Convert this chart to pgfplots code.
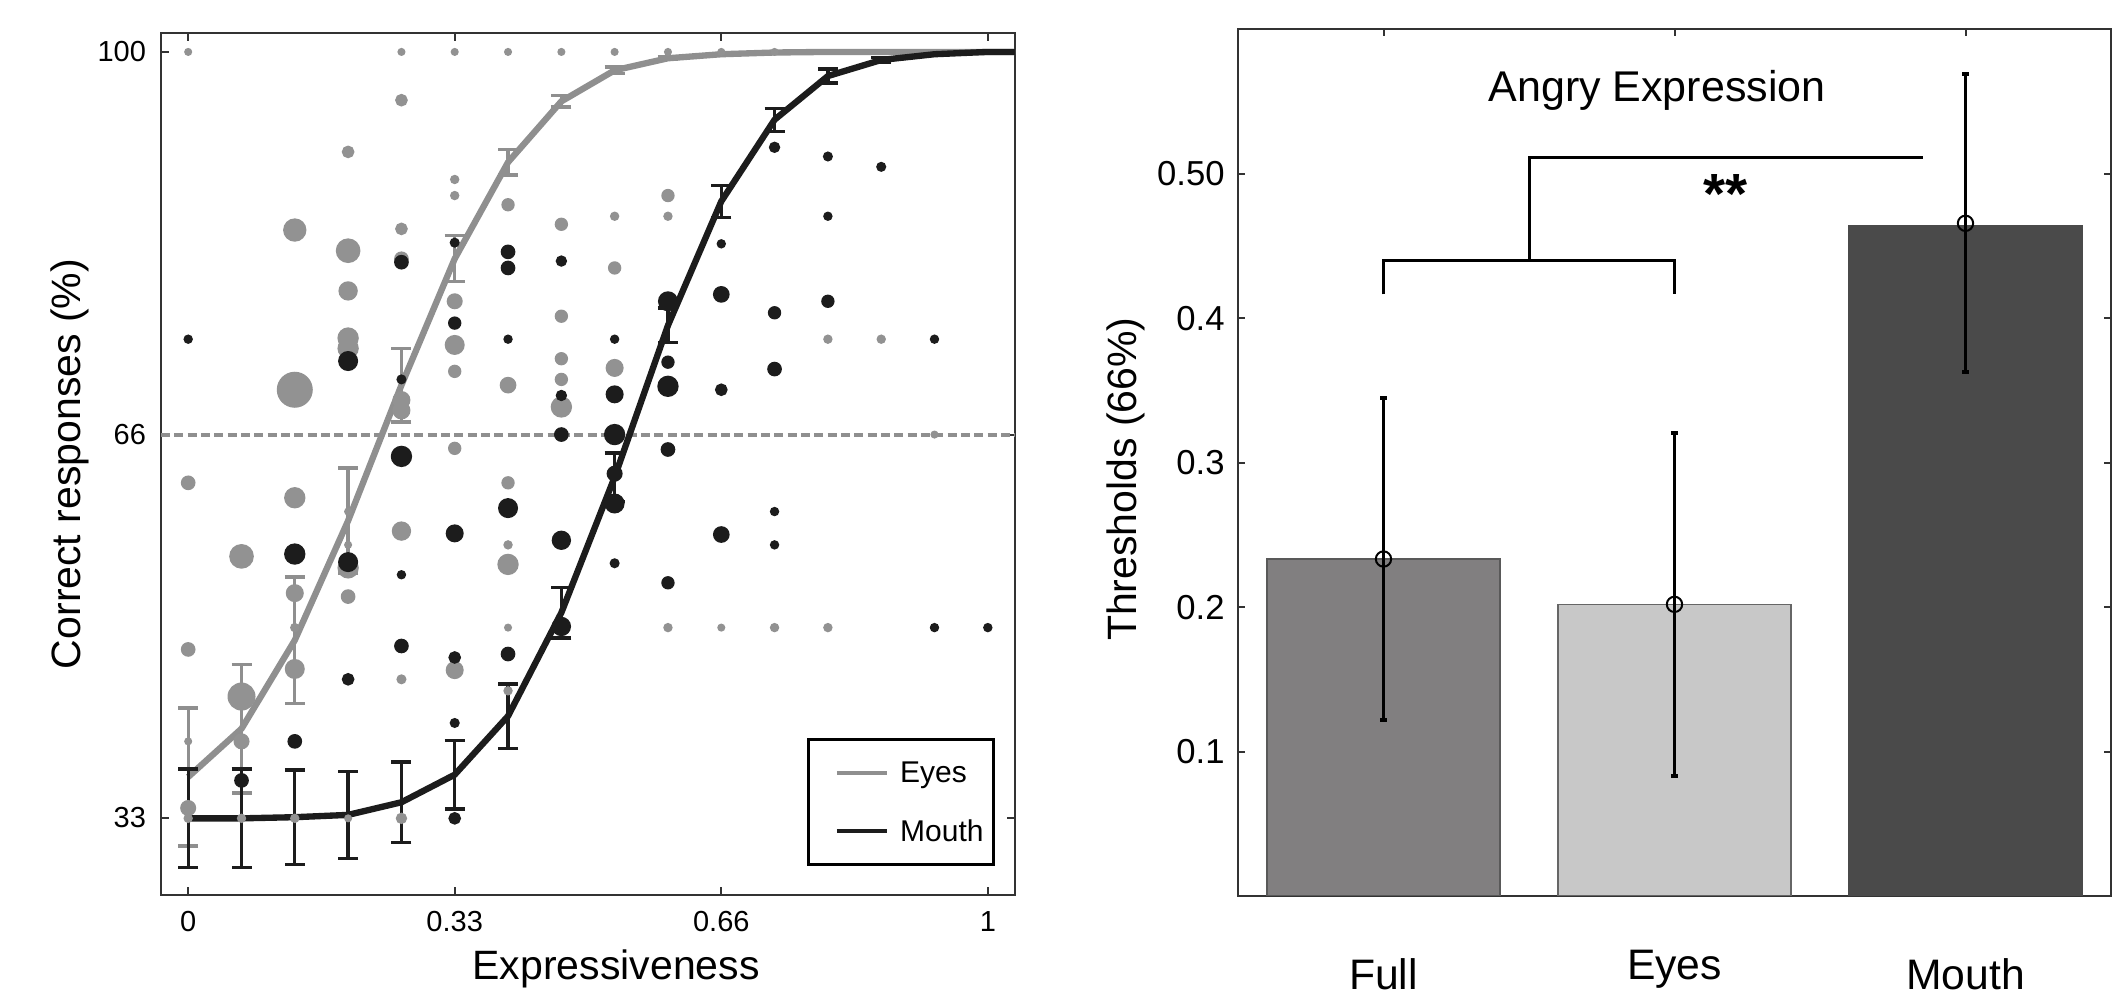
\documentclass[border=0pt]{standalone}
\usepackage{fontspec}
\setmainfont{Liberation Sans}
\usepackage{pgfplots}
\usepackage{pgfplotstable}
\pgfplotsset{compat=1.18}

\definecolor{eyesline}{HTML}{8F8F8F}
\definecolor{eyesdot}{HTML}{929292}
\definecolor{mouthline}{HTML}{1C1C1C}
\definecolor{fullbar}{HTML}{817F80}
\definecolor{eyesbar}{HTML}{C8C8C8}
\definecolor{mouthbar}{HTML}{4A4A4A}

% scatter: expressiveness, percent correct, marker radius (pt)
\pgfplotstableread{
x y r
0 100 1.0
0 62.5 2.0
0 48.0 2.0
0 40.0 1.0
0 34.2 2.2
0 33.3 1.2
0.0667 56.1 3.5
0.0667 43.9 4.0
0.0667 40.0 2.2
0.0667 33.3 1.2
0.1333 84.5 3.3
0.1333 70.6 5.2
0.1333 61.2 3.0
0.1333 52.9 2.5
0.1333 49.9 1.2
0.1333 46.3 2.8
0.1333 33.3 1.2
0.2 91.3 1.7
0.2 82.7 3.5
0.2 79.2 2.7
0.2 75.1 3.0
0.2 74.2 3.0
0.2 60.0 1.0
0.2 57.1 1.0
0.2 55.1 3.0
0.2 52.6 2.0
0.2 33.3 1.0
0.2667 100 1.0
0.2667 95.8 1.7
0.2667 84.6 1.7
0.2667 82.0 2.0
0.2667 69.7 2.5
0.2667 68.8 2.5
0.2667 58.3 2.7
0.2667 45.4 1.3
0.2667 33.3 1.5
0.3333 100 1.0
0.3333 88.9 1.2
0.3333 87.5 1.2
0.3333 78.3 2.2
0.3333 74.5 2.8
0.3333 72.2 1.8
0.3333 65.5 1.8
0.3333 46.2 2.5
0.4 100 1.0
0.4 86.7 1.8
0.4 71.0 2.3
0.4 62.5 1.8
0.4 57.1 1.2
0.4 55.4 3.0
0.4 49.9 1.0
0.4 44.4 1.2
0.4667 100 1.0
0.4667 85.0 1.8
0.4667 77.0 1.8
0.4667 73.3 1.8
0.4667 71.5 1.8
0.4667 69.1 3.0
0.5333 100 1.0
0.5333 85.7 1.2
0.5333 81.2 1.8
0.5333 72.5 2.5
0.6 100 1.0
0.6 87.5 1.8
0.6 85.7 1.2
0.6 49.9 1.2
0.6667 100 1.0
0.6667 49.9 1.0
0.7333 100 1.0
0.7333 49.9 1.2
0.8 75.0 1.2
0.8 49.9 1.2
0.8667 75.0 1.2
0.9333 66.7 1.0
}\eyesdots

\pgfplotstableread{
x y r
0 75.0 1.2
0.0667 36.6 2.0
0.1333 56.3 3.0
0.1333 40.0 2.0
0.2 73.1 2.8
0.2 55.6 2.8
0.2 45.4 1.7
0.2667 81.7 2.0
0.2667 71.5 1.3
0.2667 64.8 3.0
0.2667 54.5 1.2
0.2667 48.3 2.0
0.3333 83.4 1.3
0.3333 76.4 1.8
0.3333 58.1 2.5
0.3333 47.3 1.7
0.3333 41.6 1.3
0.3333 33.3 1.7
0.4 82.6 2.0
0.4 81.2 2.0
0.4 75.0 1.2
0.4 60.3 2.8
0.4 47.6 2.0
0.4667 81.8 1.5
0.4667 70.1 1.5
0.4667 66.7 2.0
0.4667 57.5 2.7
0.4667 50.0 2.7
0.5333 75.0 1.2
0.5333 70.2 2.5
0.5333 66.7 3.0
0.5333 63.3 2.2
0.5333 60.7 2.8
0.5333 55.5 1.3
0.6 78.3 2.8
0.6 73.0 1.8
0.6 70.9 3.0
0.6 65.4 2.0
0.6 53.8 1.8
0.6667 83.3 1.2
0.6667 78.9 2.3
0.6667 70.6 1.7
0.6667 58.0 2.3
0.7333 91.7 1.5
0.7333 77.3 1.8
0.7333 72.4 2.0
0.7333 60.0 1.2
0.7333 57.1 1.2
0.8 90.9 1.3
0.8 85.7 1.2
0.8 78.3 1.8
0.8667 90.0 1.3
0.9333 75.0 1.2
0.9333 49.9 1.2
1.0 49.9 1.2
}\mouthdots

% fitted curves with error
\pgfplotstableread{
x y e
0 36.9 6.0
0.0667 41.1 5.6
0.1333 48.8 5.5
0.2 59.2 4.6
0.2667 71.0 3.2
0.3333 82.0 2.0
0.4 90.4 1.1
0.4667 95.7 0.5
0.5333 98.4 0.3
0.6 99.45 0.1
0.6667 99.8 0
0.7333 99.95 0
0.8 100 0
0.8667 100 0
0.9333 100 0
1.0 100 0
1.034 100 0
}\eyescurve

\pgfplotstableread{
x y e
0 33.3 4.3
0.0667 33.3 4.3
0.1333 33.4 4.1
0.2 33.6 3.8
0.2667 34.7 3.5
0.3333 37.1 3.0
0.4 42.2 2.8
0.4667 51.2 2.2
0.5333 63.0 2.1
0.6 76.2 1.5
0.6667 87.0 1.4
0.7333 94.1 1.0
0.8 97.9 0.6
0.8667 99.3 0.2
0.9333 99.8 0
1.0 100 0
1.034 100 0
}\mouthcurve

\begin{document}
\begin{tikzpicture}
\path[use as bounding box] (0pt,0pt) rectangle (635.1pt,299.1pt);

\begin{axis}[
    at={(48.3pt,30.6pt)}, anchor=south west,
    scale only axis, width=256.2pt, height=258.6pt,
    xmin=-0.034, xmax=1.034, ymin=26.63, ymax=101.65,
    axis line style={black!80, line width=0.6pt},
    tick align=inside, major tick length=2.5pt,
    tick style={black!80, line width=0.6pt},
    xtick={0,0.3333,0.6667,1}, xticklabels={0,0.33,0.66,1},
    ytick={33.333,66.667,100}, yticklabels={33,66,100},
    ticklabel style={font=\fontsize{8.7}{9}\selectfont},
    xticklabel style={anchor=base, yshift=-11.1pt},
    yticklabel style={xshift=-1pt},
    xlabel={Expressiveness}, ylabel={Correct responses (\%)},
    label style={font=\fontsize{12.3}{13}\selectfont},
    xlabel style={at={(axis description cs:0.533,-0.0858)}, anchor=center},
    ylabel style={at={(axis description cs:-0.1066,0.5)}, anchor=center},
    legend style={at={(axis description cs:0.9766,0.0336)}, anchor=south east,
        draw=black, line width=0.9pt, font=\fontsize{9}{9}\selectfont,
        inner xsep=2pt, inner ysep=5pt, row sep=7.5pt,
        nodes={inner sep=1pt, text height=7pt, text depth=1pt, text width=25pt}},
    legend cell align=left,
]
\addplot[scatter, only marks, mark=*, forget plot,
    scatter/use mapped color={draw=eyesdot, fill=eyesdot},
    visualization depends on={\thisrow{r} \as \rad},
    scatter/@pre marker code/.append style={/tikz/mark size=\rad pt}]
    table[x=x, y=y] {\eyesdots};
\addplot[scatter, only marks, mark=*, forget plot,
    scatter/use mapped color={draw=mouthline, fill=mouthline},
    visualization depends on={\thisrow{r} \as \rad},
    scatter/@pre marker code/.append style={/tikz/mark size=\rad pt}]
    table[x=x, y=y] {\mouthdots};
\addplot[forget plot, eyesline, line width=1pt, dash pattern=on 2.7pt off 1.3pt]
    coordinates {(-0.034,66.667) (1.034,66.667)};

\addplot[eyesline, line width=1.9pt, mark=none,
    legend image code/.code={\path[draw=none] (0pt,0pt) -- (24.5pt,0pt);
        \draw[eyesline, line width=1.3pt] (6.5pt,0pt) -- (21.5pt,0pt);},
    error bars/.cd, y dir=both, y explicit,
    error bar style={eyesline, line width=1pt},
    error mark options={eyesline, rotate=90, mark size=3pt, line width=1pt}]
    table[x=x, y=y, y error=e] {\eyescurve};
\addlegendentry{Eyes}
\addplot[mouthline, line width=1.9pt, mark=none,
    legend image code/.code={\path[draw=none] (0pt,0pt) -- (24.5pt,0pt);
        \draw[mouthline, line width=1.3pt] (6.5pt,0pt) -- (21.5pt,0pt);},
    error bars/.cd, y dir=both, y explicit,
    error bar style={mouthline, line width=1pt},
    error mark options={mouthline, rotate=90, mark size=3pt, line width=1pt}]
    table[x=x, y=y, y error=e] {\mouthcurve};
\addlegendentry{Mouth}
\end{axis}

\begin{axis}[
    at={(371.4pt,30.3pt)}, anchor=south west,
    scale only axis, width=261.9pt, height=260.0pt,
    xmin=0.5, xmax=3.5, ymin=0, ymax=0.6,
    axis line style={black!80, line width=0.6pt},
    tick align=inside, major tick length=2pt,
    tick style={black!80, line width=0.6pt},
    xtick={1,2,3}, xticklabels={Full,\raisebox{3pt}{Eyes},Mouth},
    ytick={0.1,0.2,0.3,0.4,0.5}, yticklabels={0.1,0.2,0.3,0.4,0.50},
    xticklabel style={font=\fontsize{12.8}{13}\selectfont, anchor=base, yshift=-28.2pt},
    yticklabel style={font=\fontsize{10.4}{11}\selectfont, xshift=-0.5pt},
    ylabel={Thresholds (66\%)},
    ylabel style={font=\fontsize{12.3}{13}\selectfont, at={(axis description cs:-0.129,0.481)}, anchor=center},
]
\addplot[ybar, bar width=0.8, bar shift=0pt, fill=fullbar, draw=black!65, line width=0.5pt]
    coordinates {(1,0.2333)};
\addplot[ybar, bar width=0.8, bar shift=0pt, fill=eyesbar, draw=black!60, line width=0.5pt]
    coordinates {(2,0.2019)};
\addplot[ybar, bar width=0.8, bar shift=0pt, fill=mouthbar, draw=mouthbar, line width=0.5pt]
    coordinates {(3,0.4643)};
\addplot[black, only marks, mark=o, mark size=2.3pt, line width=0.6pt,
    error bars/.cd, y dir=both, y explicit,
    error bar style={black, line width=0.8pt},
    error mark options={black, rotate=90, mark size=1pt, line width=1.2pt}]
    coordinates {(1,0.2333) +- (0,0.1117) (2,0.2019) +- (0,0.1187) (3,0.4657) +- (0,0.1032)};

\draw[black, line width=0.9pt] (axis cs:1,0.4165) -- (axis cs:1,0.4403) -- (axis cs:2,0.4403) -- (axis cs:2,0.4165);
\draw[black, line width=0.9pt] (axis cs:1.5,0.4403) -- (axis cs:1.5,0.5116) -- (axis cs:2.853,0.5116);
\node[inner sep=0pt, anchor=north, font=\fontsize{17}{17}\selectfont\bfseries] at (axis cs:2.176,0.500) {**};
\node[inner sep=0pt, anchor=center, font=\fontsize{12.9}{13}\selectfont] at (axis cs:1.94,0.558) {Angry Expression};
\end{axis}
\end{tikzpicture}
\end{document}
